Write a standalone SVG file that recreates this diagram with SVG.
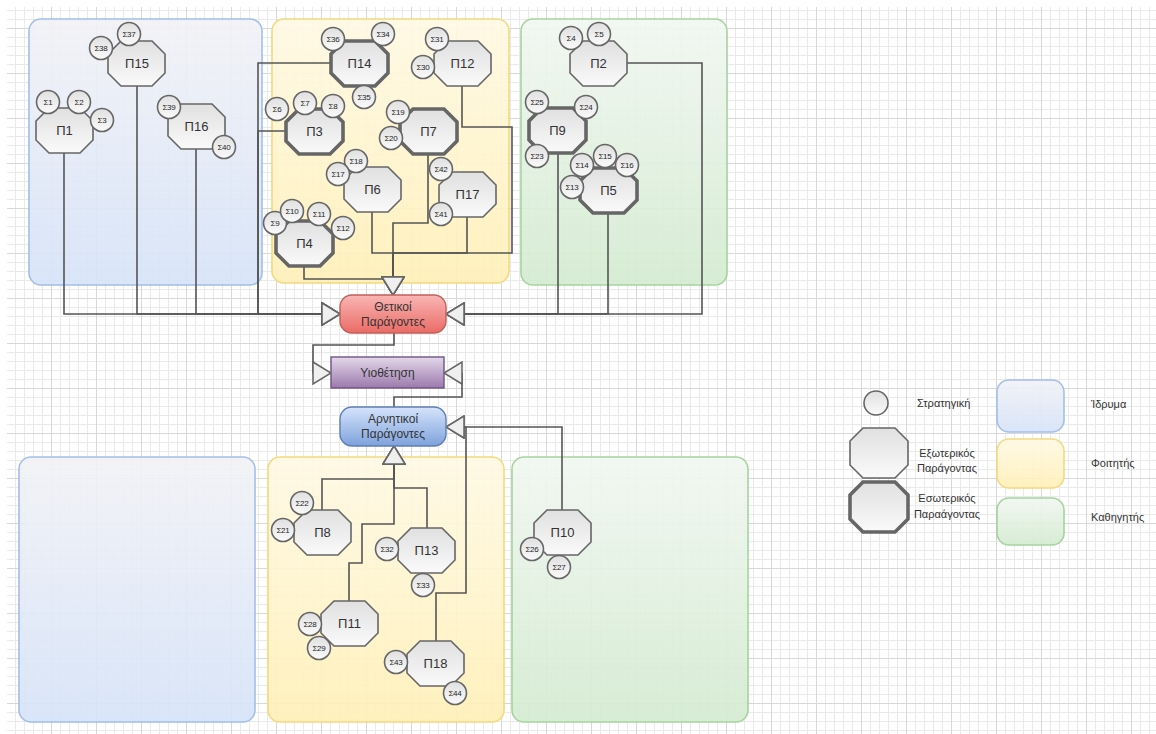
<svg xmlns="http://www.w3.org/2000/svg" xmlns:xlink="http://www.w3.org/1999/xlink" width="1156" height="734" viewBox="0 0 1156 734">
  <style>
    text { font-family: "Liberation Sans", Arial, sans-serif; fill: #333; }
    .lbl { font-size: 13px; text-anchor: middle; }
    .sl { font-size: 8px; text-anchor: middle; fill: #1e1e1e; letter-spacing: -0.2px; }
    .cl { font-size: 12px; text-anchor: middle; }
    .lg { font-size: 11px; }
    .lgc { font-size: 11px; text-anchor: middle; }
    .ext { fill: url(#gOct); stroke: #666; stroke-width: 1.6; }
    .int { fill: url(#gOct); stroke: #666; stroke-width: 3.6; }
    .str { fill: url(#gOct); stroke: #666; stroke-width: 1.6; }
    .pb { fill: url(#gBlue); stroke: #a3bfea; stroke-width: 1.6; }
    .py { fill: url(#gYel); stroke: #f3d97f; stroke-width: 1.6; }
    .pg { fill: url(#gGrn); stroke: #a6d39d; stroke-width: 1.6; }
    .wire { fill: none; stroke: #555; stroke-width: 1.6; marker-end: url(#arr); }
  </style>
  <defs>
    <pattern id="grid" patternUnits="userSpaceOnUse" x="6" y="28" width="45" height="45">
      <path d="M9.5,0 V45 M18.5,0 V45 M27.5,0 V45 M36.5,0 V45 M0,9.5 H45 M0,18.5 H45 M0,27.5 H45 M0,36.5 H45" stroke="#eaeaea" stroke-width="1"/>
      <path d="M0.5,0 V45 M0,0.5 H45" stroke="#d8d8d8" stroke-width="1"/>
    </pattern>
    <linearGradient id="gOct" x1="0" y1="0" x2="0" y2="1">
      <stop offset="0" stop-color="#e0e0e0"/>
      <stop offset="1" stop-color="#fafafa"/>
    </linearGradient>
    <linearGradient id="gBlue" x1="0" y1="0" x2="0" y2="1">
      <stop offset="0" stop-color="#f2f2f6" stop-opacity="0.92"/>
      <stop offset="1" stop-color="#d6e3f8" stop-opacity="0.92"/>
    </linearGradient>
    <linearGradient id="gYel" x1="0" y1="0" x2="0" y2="1">
      <stop offset="0" stop-color="#fff9e4" stop-opacity="0.92"/>
      <stop offset="1" stop-color="#fff0b8" stop-opacity="0.92"/>
    </linearGradient>
    <linearGradient id="gGrn" x1="0" y1="0" x2="0" y2="1">
      <stop offset="0" stop-color="#f1f7f1" stop-opacity="0.92"/>
      <stop offset="1" stop-color="#d4ebd1" stop-opacity="0.92"/>
    </linearGradient>
    <linearGradient id="gRed" x1="0" y1="0" x2="0" y2="1">
      <stop offset="0" stop-color="#f9b6b4"/>
      <stop offset="1" stop-color="#ea6b66"/>
    </linearGradient>
    <linearGradient id="gPur" x1="0" y1="0" x2="0" y2="1">
      <stop offset="0" stop-color="#e4d8ea"/>
      <stop offset="1" stop-color="#9b79ac"/>
    </linearGradient>
    <linearGradient id="gBlu2" x1="0" y1="0" x2="0" y2="1">
      <stop offset="0" stop-color="#d6e4fb"/>
      <stop offset="1" stop-color="#7ea2dc"/>
    </linearGradient>
    <path id="oct" d="M13,0 H44 L57,13 V32 L44,45 H13 L0,32 V13 Z"/>
    <marker id="arr" markerUnits="userSpaceOnUse" markerWidth="20" markerHeight="24" viewBox="0 0 20 24" refX="19" refY="12" orient="auto">
      <path d="M1,1 L19,12 L1,23 Z" fill="#efefef" stroke="#666" stroke-width="1.5"/>
    </marker>
  </defs>

  <!-- background grid -->
  <rect width="1156" height="734" fill="#fff"/>
  <rect x="7" y="7" width="1149" height="727" fill="url(#grid)"/>

  <!-- swimlane panels -->
  <g id="panels">
    <rect id="panel-idryma-top" class="pb" x="29" y="19" width="233" height="266" rx="12"/>
    <rect id="panel-foititis-top" class="py" x="272" y="19" width="237" height="264" rx="12"/>
    <rect id="panel-kathigitis-top" class="pg" x="521" y="19" width="206" height="266" rx="12"/>
    <rect id="panel-idryma-bottom" class="pb" x="19" y="457" width="236" height="265" rx="12"/>
    <rect id="panel-foititis-bottom" class="py" x="268" y="457" width="236" height="265" rx="12"/>
    <rect id="panel-kathigitis-bottom" class="pg" x="512" y="457" width="236" height="265" rx="12"/>
  </g>

  <!-- connectors -->
  <g id="connectors">
    <path class="wire" d="M64,153 V314 H340"/>
    <path class="wire" d="M137,86 V314 H340"/>
    <path class="wire" d="M196,149 V314 H340"/>
    <path class="wire" d="M331,63 H258 V314 H340"/>
    <path class="wire" d="M286,131 H258 V314 H340"/>
    <path class="wire" d="M627,63 H702 V314 H446"/>
    <path class="wire" d="M558,153 V314 H446"/>
    <path class="wire" d="M608,213 V314 H446"/>
    <path class="wire" d="M428,153 V223 H393 V295"/>
    <path class="wire" d="M372,212 V253 H393 V295"/>
    <path class="wire" d="M467,216 V253 H393 V295"/>
    <path class="wire" d="M462,86 V127 H512 V253 H393 V295"/>
    <path class="wire" d="M304,266 V279 H393 V295"/>
    <path class="wire" d="M394,333 V345 H313 V373 H331"/>
    <path class="wire" d="M394,407 V397 H462 V373 H444"/>
    <path class="wire" d="M322,510 V479 H394 V446"/>
    <path class="wire" d="M427,528 V488 H394 V446"/>
    <path class="wire" d="M349,601 V563 H362 V524 H394 V446"/>
    <path class="wire" d="M436,641 V593 H466 V427 H446"/>
    <path class="wire" d="M562,510 V427 H446"/>
  </g>

  <!-- central nodes -->
  <g id="thetikoi">
    <rect x="340" y="295" width="106" height="38" rx="12" fill="url(#gRed)" stroke="#c0605c" stroke-width="1.4"/>
    <text class="cl" x="393" y="311">Θετικοί</text>
    <text class="cl" x="393" y="326">Παράγοντες</text>
  </g>
  <g id="yiothetisi">
    <rect x="331" y="357" width="113" height="31" fill="url(#gPur)" stroke="#6f5580" stroke-width="1.4"/>
    <text class="cl" x="387.5" y="377">Υιοθέτηση</text>
  </g>
  <g id="arnitikoi">
    <rect x="340" y="407" width="106" height="39" rx="12" fill="url(#gBlu2)" stroke="#5f7fb3" stroke-width="1.4"/>
    <text class="cl" x="393" y="423">Αρνητικοί</text>
    <text class="cl" x="393" y="438">Παράγοντες</text>
  </g>

  <!-- factor nodes with their strategies -->
  <g id="p15">
    <use href="#oct" x="108" y="41" class="ext"/>
    <text class="lbl" x="137" y="68">Π15</text>
    <g id="s37"><circle class="str" cx="129" cy="34" r="11.5"/><text class="sl" x="129" y="37">Σ37</text></g>
    <g id="s38"><circle class="str" cx="101" cy="48" r="11.5"/><text class="sl" x="101" y="51">Σ38</text></g>
  </g>
  <g id="p1">
    <use href="#oct" x="36" y="108" class="ext"/>
    <text class="lbl" x="64.5" y="135">Π1</text>
    <g id="s1"><circle class="str" cx="48" cy="102" r="11.5"/><text class="sl" x="48" y="105">Σ1</text></g>
    <g id="s2"><circle class="str" cx="79" cy="102" r="11.5"/><text class="sl" x="79" y="105">Σ2</text></g>
    <g id="s3"><circle class="str" cx="102" cy="120" r="11.5"/><text class="sl" x="102" y="123">Σ3</text></g>
  </g>
  <g id="p16">
    <use href="#oct" x="168" y="104" class="ext"/>
    <text class="lbl" x="196.5" y="131">Π16</text>
    <g id="s39"><circle class="str" cx="169" cy="107" r="11.5"/><text class="sl" x="169" y="110">Σ39</text></g>
    <g id="s40"><circle class="str" cx="224" cy="147" r="11.5"/><text class="sl" x="224" y="150">Σ40</text></g>
  </g>
  <g id="p14">
    <use href="#oct" x="331" y="41" class="int"/>
    <text class="lbl" x="359.5" y="68">Π14</text>
    <g id="s36"><circle class="str" cx="333" cy="39" r="11.5"/><text class="sl" x="333" y="42">Σ36</text></g>
    <g id="s34"><circle class="str" cx="383" cy="34" r="11.5"/><text class="sl" x="383" y="37">Σ34</text></g>
    <g id="s35"><circle class="str" cx="364" cy="97" r="11.5"/><text class="sl" x="364" y="100">Σ35</text></g>
  </g>
  <g id="p12">
    <use href="#oct" x="434" y="41" class="ext"/>
    <text class="lbl" x="462.5" y="68">Π12</text>
    <g id="s31"><circle class="str" cx="437" cy="39" r="11.5"/><text class="sl" x="437" y="42">Σ31</text></g>
    <g id="s30"><circle class="str" cx="423" cy="67" r="11.5"/><text class="sl" x="423" y="70">Σ30</text></g>
  </g>
  <g id="p3">
    <use href="#oct" x="286" y="109" class="int"/>
    <text class="lbl" x="314.5" y="136">Π3</text>
    <g id="s6"><circle class="str" cx="277" cy="109" r="11.5"/><text class="sl" x="277" y="112">Σ6</text></g>
    <g id="s7"><circle class="str" cx="305" cy="103" r="11.5"/><text class="sl" x="305" y="106">Σ7</text></g>
    <g id="s8"><circle class="str" cx="333" cy="106" r="11.5"/><text class="sl" x="333" y="109">Σ8</text></g>
  </g>
  <g id="p7">
    <use href="#oct" x="400" y="109" class="int"/>
    <text class="lbl" x="428.5" y="136">Π7</text>
    <g id="s19"><circle class="str" cx="398" cy="112" r="11.5"/><text class="sl" x="398" y="115">Σ19</text></g>
    <g id="s20"><circle class="str" cx="391" cy="138" r="11.5"/><text class="sl" x="391" y="141">Σ20</text></g>
  </g>
  <g id="p6">
    <use href="#oct" x="344" y="167" class="ext"/>
    <text class="lbl" x="372.5" y="194">Π6</text>
    <g id="s18"><circle class="str" cx="356" cy="161" r="11.5"/><text class="sl" x="356" y="164">Σ18</text></g>
    <g id="s17"><circle class="str" cx="338" cy="174" r="11.5"/><text class="sl" x="338" y="177">Σ17</text></g>
  </g>
  <g id="p17">
    <use href="#oct" x="439" y="172" class="ext"/>
    <text class="lbl" x="467.5" y="199">Π17</text>
    <g id="s42"><circle class="str" cx="441" cy="169" r="11.5"/><text class="sl" x="441" y="172">Σ42</text></g>
    <g id="s41"><circle class="str" cx="441" cy="214" r="11.5"/><text class="sl" x="441" y="217">Σ41</text></g>
  </g>
  <g id="p4">
    <use href="#oct" x="276" y="221" class="int"/>
    <text class="lbl" x="304.5" y="248">Π4</text>
    <g id="s9"><circle class="str" cx="275" cy="223" r="11.5"/><text class="sl" x="275" y="226">Σ9</text></g>
    <g id="s10"><circle class="str" cx="292" cy="211" r="11.5"/><text class="sl" x="292" y="214">Σ10</text></g>
    <g id="s11"><circle class="str" cx="319" cy="214" r="11.5"/><text class="sl" x="319" y="217">Σ11</text></g>
    <g id="s12"><circle class="str" cx="343" cy="228" r="11.5"/><text class="sl" x="343" y="231">Σ12</text></g>
  </g>
  <g id="p2">
    <use href="#oct" x="570" y="41" class="ext"/>
    <text class="lbl" x="598.5" y="68">Π2</text>
    <g id="s4"><circle class="str" cx="571" cy="38" r="11.5"/><text class="sl" x="571" y="41">Σ4</text></g>
    <g id="s5"><circle class="str" cx="599" cy="34" r="11.5"/><text class="sl" x="599" y="37">Σ5</text></g>
  </g>
  <g id="p9">
    <use href="#oct" x="529" y="108" class="int"/>
    <text class="lbl" x="557.5" y="135">Π9</text>
    <g id="s25"><circle class="str" cx="537" cy="102" r="11.5"/><text class="sl" x="537" y="105">Σ25</text></g>
    <g id="s24"><circle class="str" cx="586" cy="107" r="11.5"/><text class="sl" x="586" y="110">Σ24</text></g>
    <g id="s23"><circle class="str" cx="537" cy="156" r="11.5"/><text class="sl" x="537" y="159">Σ23</text></g>
  </g>
  <g id="p5">
    <use href="#oct" x="580" y="168" class="int"/>
    <text class="lbl" x="608.5" y="195">Π5</text>
    <g id="s14"><circle class="str" cx="582" cy="165" r="11.5"/><text class="sl" x="582" y="168">Σ14</text></g>
    <g id="s15"><circle class="str" cx="605" cy="156" r="11.5"/><text class="sl" x="605" y="159">Σ15</text></g>
    <g id="s16"><circle class="str" cx="627" cy="165" r="11.5"/><text class="sl" x="627" y="168">Σ16</text></g>
    <g id="s13"><circle class="str" cx="572" cy="187" r="11.5"/><text class="sl" x="572" y="190">Σ13</text></g>
  </g>
  <g id="p8">
    <use href="#oct" x="294" y="510" class="ext"/>
    <text class="lbl" x="322.5" y="537">Π8</text>
    <g id="s22"><circle class="str" cx="302" cy="503" r="11.5"/><text class="sl" x="302" y="506">Σ22</text></g>
    <g id="s21"><circle class="str" cx="283" cy="530" r="11.5"/><text class="sl" x="283" y="533">Σ21</text></g>
  </g>
  <g id="p13">
    <use href="#oct" x="398" y="528" class="ext"/>
    <text class="lbl" x="426.5" y="555">Π13</text>
    <g id="s32"><circle class="str" cx="387" cy="549" r="11.5"/><text class="sl" x="387" y="552">Σ32</text></g>
    <g id="s33"><circle class="str" cx="423" cy="585" r="11.5"/><text class="sl" x="423" y="588">Σ33</text></g>
  </g>
  <g id="p11">
    <use href="#oct" x="321" y="601" class="ext"/>
    <text class="lbl" x="349.5" y="628">Π11</text>
    <g id="s28"><circle class="str" cx="310" cy="624" r="11.5"/><text class="sl" x="310" y="627">Σ28</text></g>
    <g id="s29"><circle class="str" cx="319" cy="648" r="11.5"/><text class="sl" x="319" y="651">Σ29</text></g>
  </g>
  <g id="p18">
    <use href="#oct" x="407" y="641" class="ext"/>
    <text class="lbl" x="435.5" y="668">Π18</text>
    <g id="s43"><circle class="str" cx="396" cy="662" r="11.5"/><text class="sl" x="396" y="665">Σ43</text></g>
    <g id="s44"><circle class="str" cx="455" cy="693" r="11.5"/><text class="sl" x="455" y="696">Σ44</text></g>
  </g>
  <g id="p10">
    <use href="#oct" x="534" y="510" class="ext"/>
    <text class="lbl" x="562.5" y="537">Π10</text>
    <g id="s26"><circle class="str" cx="532" cy="549" r="11.5"/><text class="sl" x="532" y="552">Σ26</text></g>
    <g id="s27"><circle class="str" cx="559" cy="567" r="11.5"/><text class="sl" x="559" y="570">Σ27</text></g>
  </g>

  <!-- legend -->
  <g id="legend">
    <g id="legend-strategy">
      <circle class="str" cx="876" cy="403" r="12"/>
      <text class="lg" x="917" y="407">Στρατηγική</text>
    </g>
    <g id="legend-external">
      <path class="ext" d="M863,428 H895 L908,441 V465 L895,478 H863 L850,465 V441 Z"/>
      <text class="lgc" x="947" y="457">Εξωτερικός</text>
      <text class="lgc" x="947" y="472">Παράγοντας</text>
    </g>
    <g id="legend-internal">
      <path class="int" d="M863,482 H895 L908,495 V519 L895,532 H863 L850,519 V495 Z"/>
      <text class="lgc" x="947" y="502">Εσωτερικός</text>
      <text class="lgc" x="947" y="518">Παραάγοντας</text>
    </g>
    <g id="legend-idryma">
      <rect class="pb" x="997" y="380" width="67" height="52" rx="12"/>
      <text class="lg" x="1091" y="408">Ίδρυμα</text>
    </g>
    <g id="legend-foititis">
      <rect class="py" x="997" y="439" width="67" height="49" rx="12"/>
      <text class="lg" x="1091" y="467">Φοιτητής</text>
    </g>
    <g id="legend-kathigitis">
      <rect class="pg" x="997" y="498" width="67" height="47" rx="12"/>
      <text class="lg" x="1091" y="521">Καθηγητής</text>
    </g>
  </g>
</svg>
